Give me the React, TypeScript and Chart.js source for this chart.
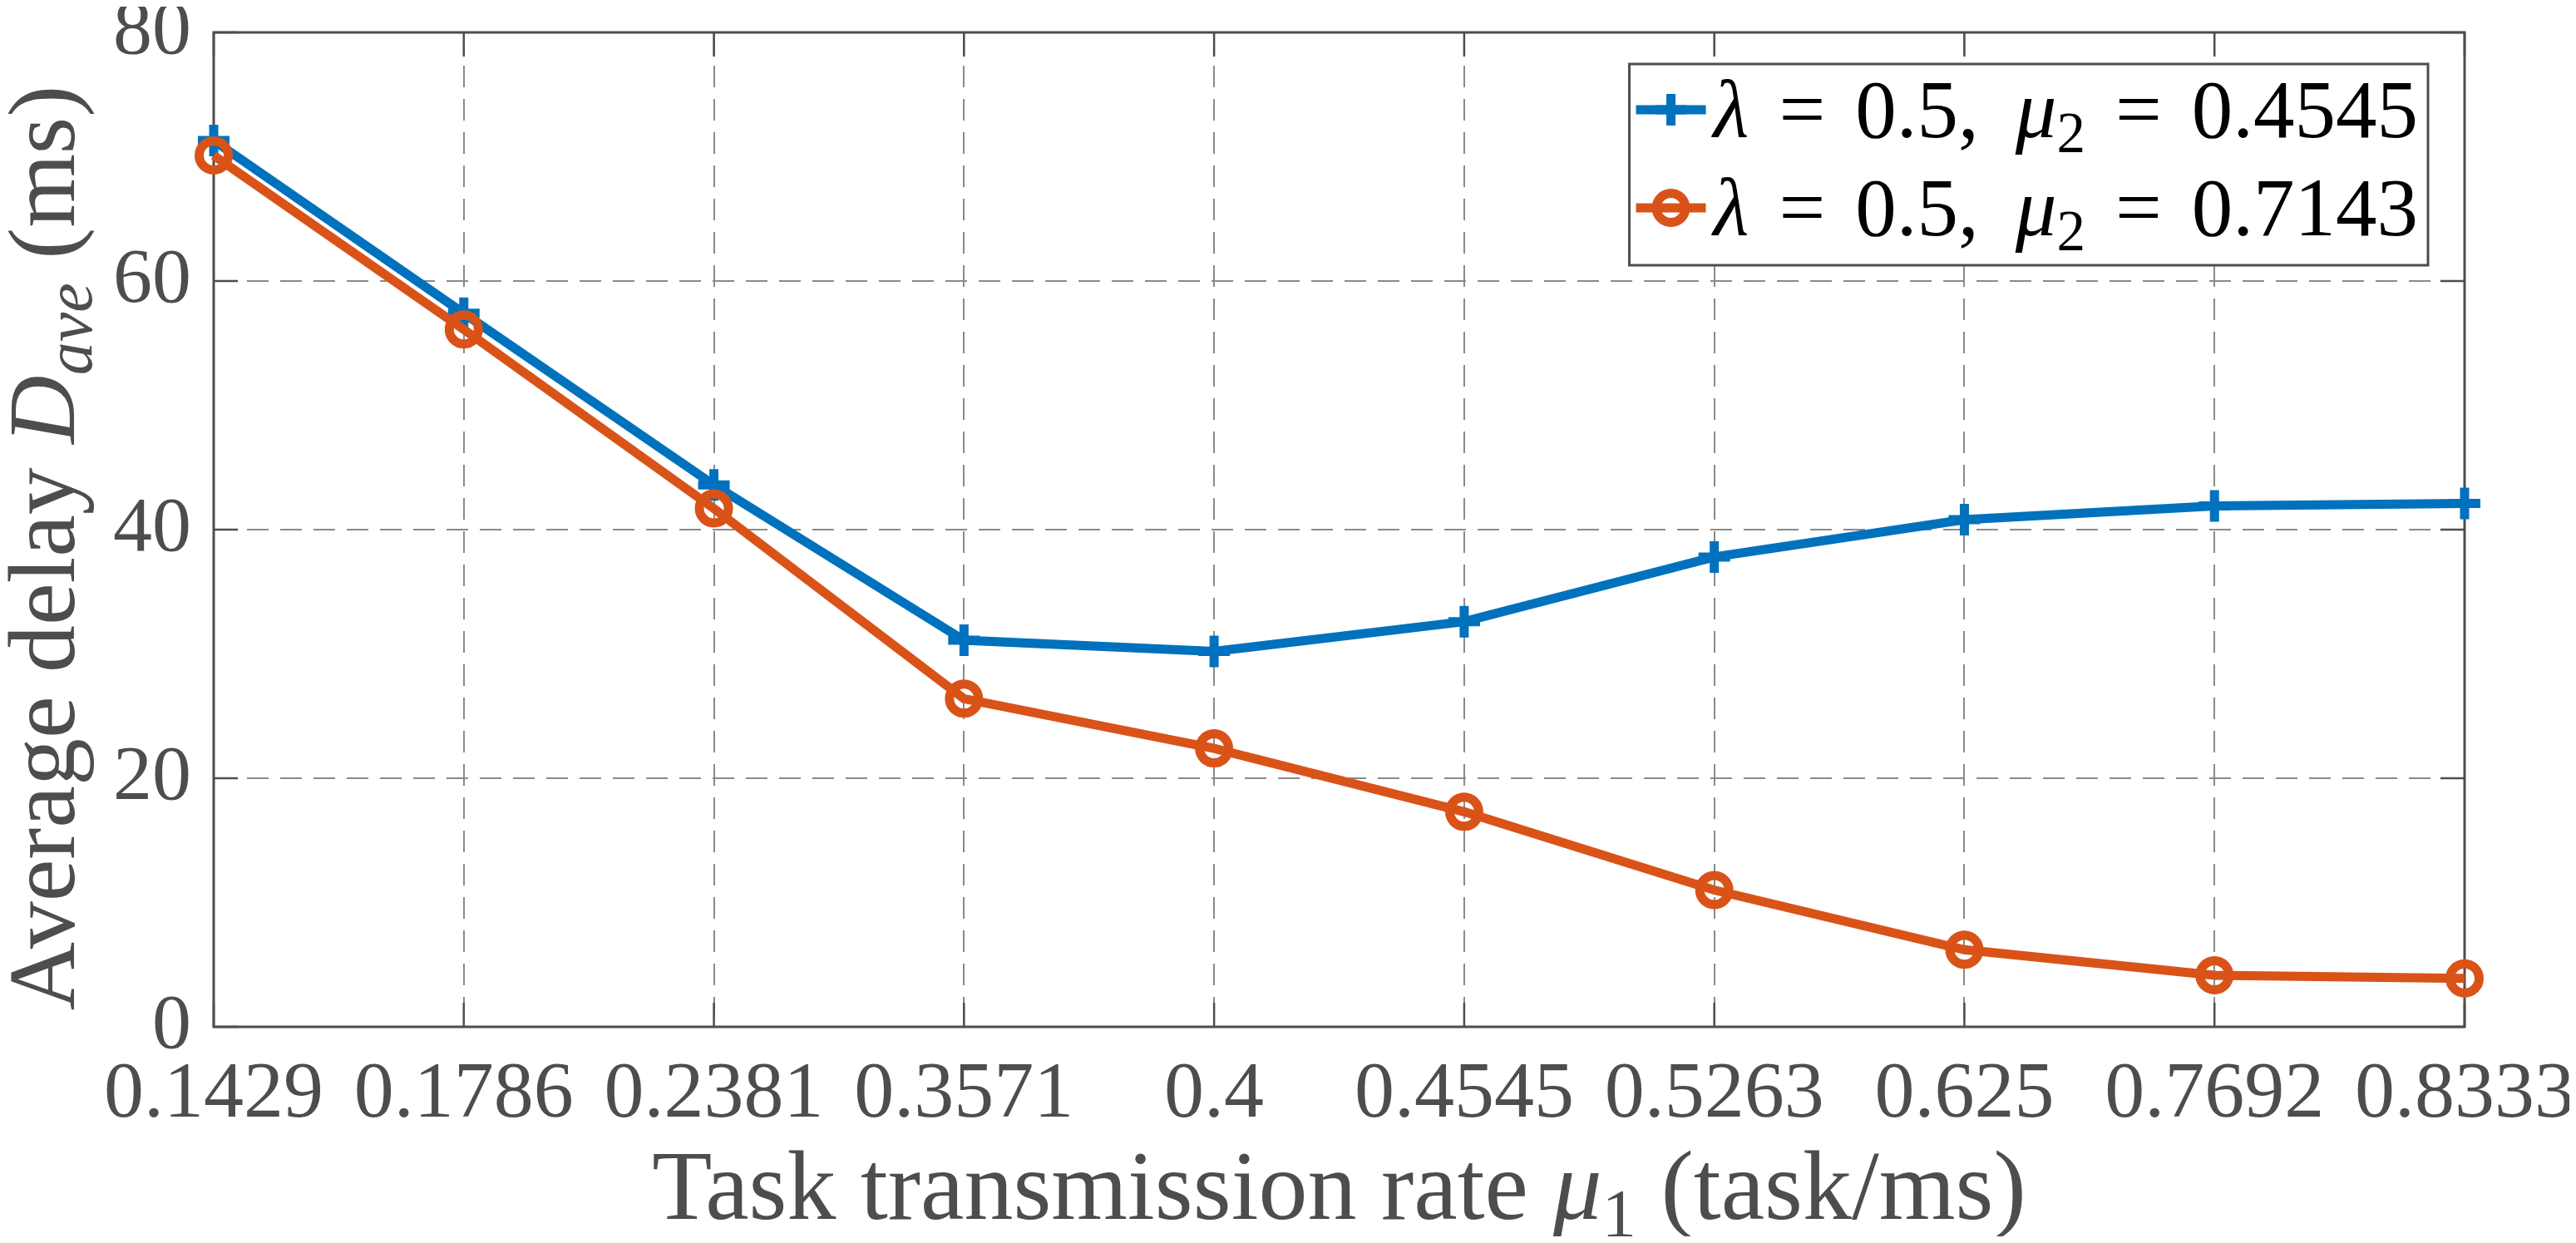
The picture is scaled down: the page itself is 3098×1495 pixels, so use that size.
import React, { useEffect, useRef } from 'react';
import { Chart, registerables } from 'chart.js';

Chart.register(...registerables);

const categories = ['0.1429', '0.1786', '0.2381', '0.3571', '0.4', '0.4545', '0.5263', '0.625', '0.7692', '0.8333'];
const seriesBlue = [71.3, 57.4, 43.6, 31.1, 30.2, 32.6, 37.8, 40.8, 41.9, 42.1];
const seriesRed = [70.1, 56.1, 41.7, 26.4, 22.4, 17.3, 11.0, 6.2, 4.15, 3.9];
const yMin = 0;
const yMax = 80;
const yStep = 20;

const BLUE = '#0072BD';
const RED = '#D95319';
const AXIS = '#4d4d4d';
const FONT = '"Liberation Serif", "Times New Roman", serif';

type Seg = { t?: string; it?: boolean; sub?: boolean; gap?: number };

function segFont(s: Seg, size: number) {
  const sz = Math.round(s.sub ? size * 0.7 : size);
  return `${s.it ? 'italic ' : ''}${sz}px ${FONT}`;
}

function measureRich(ctx: CanvasRenderingContext2D, segs: Seg[], size: number) {
  let w = 0;
  for (const s of segs) {
    if (s.gap) { w += s.gap; continue; }
    ctx.font = segFont(s, size);
    w += ctx.measureText(s.t || '').width;
  }
  return w;
}

function drawRich(ctx: CanvasRenderingContext2D, segs: Seg[], size: number, x: number, y: number) {
  let cx = x;
  ctx.textBaseline = 'alphabetic';
  ctx.textAlign = 'left';
  for (const s of segs) {
    if (s.gap) { cx += s.gap; continue; }
    ctx.font = segFont(s, size);
    const dy = s.sub ? size * 0.18 : 0;
    ctx.fillText(s.t || '', cx, y + dy);
    cx += ctx.measureText(s.t || '').width;
  }
}

const xTitle: Seg[] = [
  { t: 'Task transmission rate ' },
  { t: 'μ', it: true },
  { t: '1', sub: true },
  { t: ' (task/ms)' },
];
const yTitle: Seg[] = [
  { t: 'Average delay ' },
  { t: 'D', it: true },
  { t: 'ave', it: true, sub: true },
  { t: ' (ms)' },
];
const legendTexts: Seg[][] = [
  [{ t: 'λ', it: true }, { gap: 36 }, { t: '=' }, { gap: 36 }, { t: '0.5,' }, { gap: 44 }, { t: 'μ', it: true }, { t: '2', sub: true }, { gap: 36 }, { t: '=' }, { gap: 36 }, { t: '0.4545' }],
  [{ t: 'λ', it: true }, { gap: 36 }, { t: '=' }, { gap: 36 }, { t: '0.5,' }, { gap: 44 }, { t: 'μ', it: true }, { t: '2', sub: true }, { gap: 36 }, { t: '=' }, { gap: 36 }, { t: '0.7143' }],
];

const boxPlugin = {
  id: 'matlabBox',
  beforeDatasetsDraw(chart: any) {
    const { ctx, chartArea: a, scales } = chart;
    ctx.save();
    ctx.strokeStyle = AXIS;
    ctx.lineWidth = 2.5;
    ctx.setLineDash([]);
    const tl = 29;
    const ys = scales.y;
    for (let v = yMin; v <= yMax; v += yStep) {
      const py = ys.getPixelForValue(v);
      ctx.beginPath();
      ctx.moveTo(a.left, py); ctx.lineTo(a.left + tl, py);
      ctx.moveTo(a.right, py); ctx.lineTo(a.right - tl, py);
      ctx.stroke();
    }
    const xs = scales.x;
    for (let i = 0; i < categories.length; i++) {
      const px = xs.getPixelForValue(i);
      ctx.beginPath();
      ctx.moveTo(px, a.bottom); ctx.lineTo(px, a.bottom - tl);
      ctx.moveTo(px, a.top); ctx.lineTo(px, a.top + tl);
      ctx.stroke();
    }
    ctx.lineWidth = 3;
    ctx.strokeRect(a.left, a.top, a.right - a.left, a.bottom - a.top);
    ctx.restore();
  },
  afterDraw(chart: any) {
    const { ctx, chartArea: a } = chart;
    ctx.save();
    ctx.fillStyle = AXIS;
    // x title
    const xsize = 118;
    const wx = measureRich(ctx, xTitle, xsize);
    drawRich(ctx, xTitle, xsize, (a.left + a.right) / 2 - wx / 2, 1458);
    // y title
    const ysize = 114;
    const wy = measureRich(ctx, yTitle, ysize);
    ctx.save();
    ctx.translate(81, (a.top + a.bottom) / 2 + 22);
    ctx.rotate(-Math.PI / 2);
    drawRich(ctx, yTitle, ysize, -wy / 2, 0);
    ctx.restore();

    // legend
    const lsize = 99;
    const textW = Math.max(...legendTexts.map((s) => measureRich(ctx, s, lsize)));
    const boxRight = a.right - 44;
    const boxTop = a.top + 38;
    const boxH = 242;
    const sampleW = 84;
    const boxW = 8 + sampleW + 9 + textW + 12;
    const boxLeft = boxRight - boxW;
    ctx.fillStyle = '#ffffff';
    ctx.fillRect(boxLeft, boxTop, boxW, boxH);
    ctx.strokeStyle = AXIS;
    ctx.lineWidth = 3;
    ctx.strokeRect(boxLeft, boxTop, boxW, boxH);
    const rows = [boxTop + 55, boxTop + 173];
    const colors = [BLUE, RED];
    for (let r = 0; r < 2; r++) {
      const cy = rows[r];
      const sx = boxLeft + 8;
      const mx = sx + sampleW / 2;
      ctx.strokeStyle = colors[r];
      ctx.lineWidth = 11;
      ctx.beginPath();
      ctx.moveTo(sx, cy); ctx.lineTo(sx + sampleW, cy);
      ctx.stroke();
      if (r === 0) {
        ctx.beginPath();
        ctx.moveTo(mx, cy - 19); ctx.lineTo(mx, cy + 19);
        ctx.moveTo(mx - 19, cy); ctx.lineTo(mx + 19, cy);
        ctx.stroke();
      } else {
        ctx.beginPath();
        ctx.arc(mx, cy, 17.5, 0, Math.PI * 2);
        ctx.stroke();
      }
      ctx.fillStyle = '#000000';
      drawRich(ctx, legendTexts[r], lsize, sx + sampleW + 9, cy + 33);
    }
    ctx.restore();
  },
};

export default function App() {
  const ref = useRef<HTMLCanvasElement | null>(null);
  useEffect(() => {
    if (!ref.current) return;
    const chart = new Chart(ref.current, {
      type: 'line',
      data: {
        labels: categories,
        datasets: [
          {
            label: 'λ = 0.5, μ2 = 0.7143',
            data: seriesRed,
            borderColor: RED,
            backgroundColor: 'rgba(0,0,0,0)',
            borderWidth: 11,
            pointStyle: 'circle',
            pointRadius: 17.5,
            pointBorderWidth: 11,
            pointBorderColor: RED,
            pointBackgroundColor: 'rgba(0,0,0,0)',
            tension: 0,
            clip: false as any,
            order: 0,
          },
          {
            label: 'λ = 0.5, μ2 = 0.4545',
            data: seriesBlue,
            borderColor: BLUE,
            backgroundColor: BLUE,
            borderWidth: 11,
            pointStyle: 'cross',
            pointRadius: 19,
            pointBorderWidth: 11,
            pointBorderColor: BLUE,
            tension: 0,
            clip: false as any,
            order: 1,
          },
        ],
      },
      options: {
        responsive: false,
        animation: false,
        devicePixelRatio: 1,
        layout: { padding: { left: 0, top: 31, right: 126, bottom: 0 } },
        plugins: {
          legend: { display: false },
          tooltip: { enabled: false },
          title: { display: false },
        },
        scales: {
          x: {
            type: 'category',
            offset: false,
            grid: { display: true, color: '#8a8a8a', lineWidth: 2, drawTicks: false },
            border: { display: false, dash: [26, 14] },
            ticks: {
              color: AXIS,
              font: { family: FONT, size: 96 },
              padding: 25,
              maxRotation: 0,
              minRotation: 0,
              autoSkip: false,
            },
            afterFit: (s: any) => {
              s.height = 252;
              s.paddingLeft = 0;
              s.paddingRight = 0;
            },
          },
          y: {
            min: yMin,
            max: yMax,
            grid: { display: true, color: '#8a8a8a', lineWidth: 2, drawTicks: false },
            border: { display: false, dash: [26, 14] },
            ticks: {
              stepSize: yStep,
              color: AXIS,
              font: { family: FONT, size: 94 },
              padding: 27,
            },
            afterFit: (s: any) => {
              s.width = 249;
              s.paddingTop = 0;
              s.paddingBottom = 0;
            },
          },
        },
      },
      plugins: [boxPlugin],
    });
    return () => chart.destroy();
  }, []);
  return (
    <div style={{ width: 3082, height: 1479 }}>
      <canvas ref={ref} width={3082} height={1479} style={{ display: 'block', width: 3082, height: 1479 }} />
    </div>
  );
}
